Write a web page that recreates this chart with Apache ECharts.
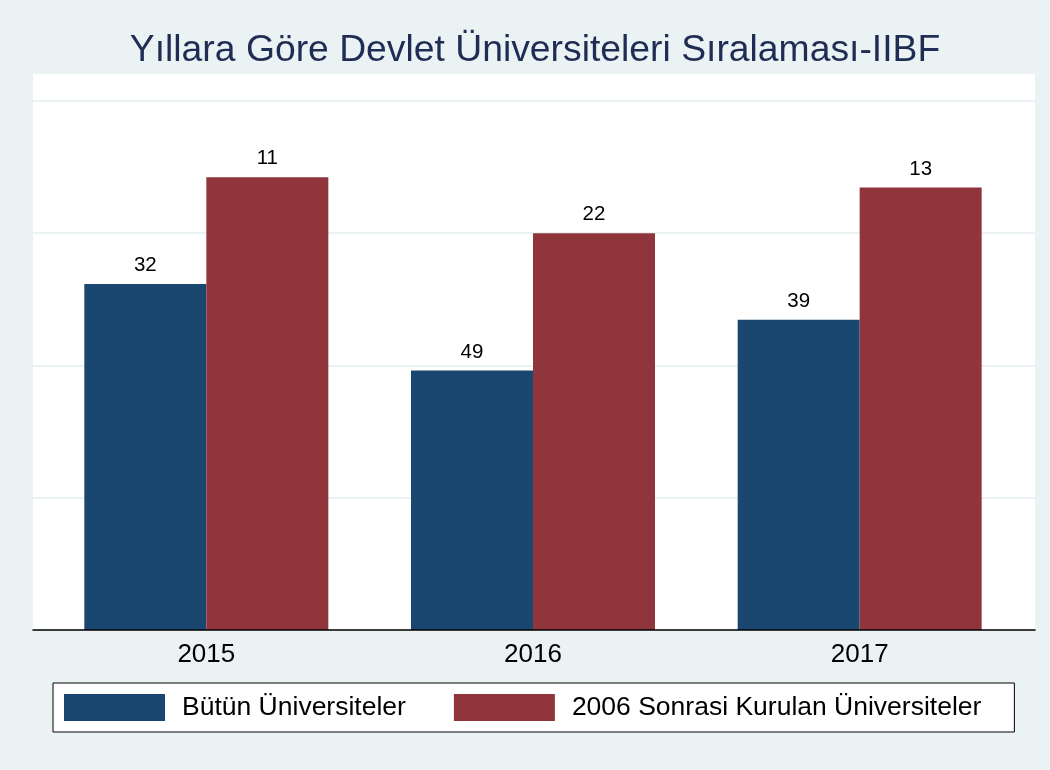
<!DOCTYPE html>
<html>
<head>
<meta charset="utf-8">
<title>Yıllara Göre Devlet Üniversiteleri Sıralaması-IIBF</title>
<script src="https://cdn.jsdelivr.net/npm/echarts@6.0.0/dist/echarts.min.js"></script>
<style>
    html, body { margin: 0; padding: 0; background: #eaf2f3; }
    #chart { width: 1050px; height: 770px; }
</style>
</head>
<body>
<div id="chart"></div>
<script>
// sıralama verisi (küçük = daha iyi)
const years = ['2015', '2016', '2017']
const seriesNames = ['Bütün Üniversiteler', '2006 Sonrasi Kurulan Üniversiteler']
const rankAll = [32, 49, 39]
const rankNew = [11, 22, 13]
// çubuk yüksekliği = RANK_BASE - sıra
const RANK_BASE = 100

const COLOR_LIST = ['#1a476f', '#90353b']
const FONT = '"Liberation Sans", Arial, Helvetica, sans-serif'

const chart = echarts.init(document.getElementById('chart'))

const makeSeries = (name, ranks, index) => {
    return {
        name: name,
        type: 'bar',
        xAxisIndex: 1,
        yAxisIndex: 1,
        barWidth: 122,
        barGap: '0%',
        itemStyle: { color: COLOR_LIST[index] },
        label: {
            show: true,
            position: 'top',
            distance: 8,
            fontSize: 20.5,
            color: '#000',
            fontFamily: FONT,
            formatter: (p) => String(ranks[p.dataIndex]),
        },
        data: ranks.map((r) => RANK_BASE - r),
    }
}

const yRange = { min: 0, max: 109.5, interval: 26 }

const option = {
    animation: false,
    backgroundColor: '#eaf2f3',
    textStyle: { fontFamily: FONT },
    title: {
        text: 'Yıllara Göre Devlet Üniversiteleri Sıralaması-IIBF',
        left: 535,
        textAlign: 'center',
        top: 32,
        padding: 0,
        textStyle: {
            fontSize: 37.3,
            fontWeight: 'normal',
            color: '#1f2d54',
            fontFamily: FONT,
        },
    },
    legend: {
        data: seriesNames,
        left: 53,
        top: 683,
        icon: 'rect',
        itemWidth: 101,
        itemHeight: 27,
        itemGap: 48,
        padding: [11, 33, 11, 11],
        borderColor: '#000',
        borderWidth: 1,
        backgroundColor: '#fff',
        textStyle: {
            fontSize: 26.5,
            color: '#000',
            fontFamily: FONT,
            padding: [0, 0, 0, 12],
        },
    },
    grid: [
        // beyaz çizim alanı + yatay çizgiler
        { left: 33, right: 15, top: 73, bottom: 140, show: true, backgroundColor: '#fff', borderWidth: 0 },
        // çubuklar
        { left: 43, right: 27, top: 73, bottom: 140 },
    ],
    xAxis: [
        {
            gridIndex: 0,
            type: 'category',
            data: years,
            z: 5,
            axisTick: { show: false },
            axisLabel: { show: false },
            axisLine: { show: true, lineStyle: { color: '#000', width: 1.5 } },
            splitLine: { show: false },
        },
        {
            gridIndex: 1,
            type: 'category',
            data: years,
            axisTick: { show: false },
            axisLine: { show: false },
            axisLabel: {
                fontSize: 26,
                color: '#000',
                margin: 12,
                fontFamily: FONT,
            },
        },
    ],
    yAxis: [
        {
            gridIndex: 0,
            type: 'value',
            ...yRange,
            axisLabel: { show: false },
            axisLine: { show: false },
            axisTick: { show: false },
            splitLine: { lineStyle: { color: '#eaf2f3', width: 2 } },
        },
        {
            gridIndex: 1,
            type: 'value',
            ...yRange,
            show: false,
            splitLine: { show: false },
        },
    ],
    series: [
        makeSeries(seriesNames[0], rankAll, 0),
        makeSeries(seriesNames[1], rankNew, 1),
    ],
}

chart.setOption(option)
</script>
</body>
</html>
